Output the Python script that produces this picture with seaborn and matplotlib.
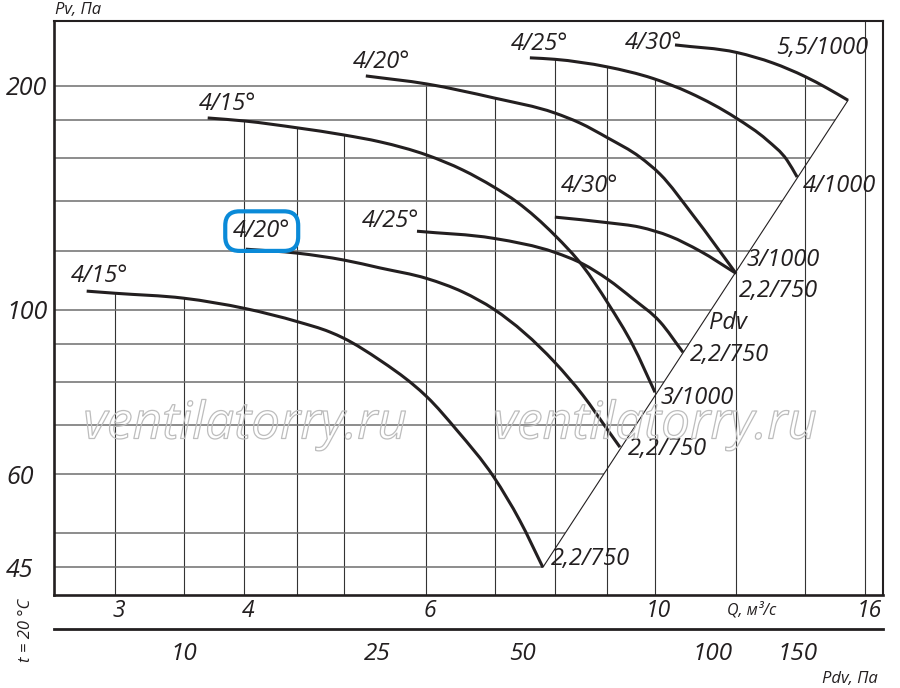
import numpy as np
import matplotlib
matplotlib.use('Agg')
import matplotlib.pyplot as plt
import matplotlib.patheffects as pe
import matplotlib.transforms as mtransforms
from matplotlib.path import Path
from matplotlib.patches import PathPatch
import seaborn as sns

# curve data (Q in m3/s, Pv in Pa)
lower_15_q = [2.815, 3.0, 3.496, 4.015, 4.51, 4.844, 4.998, 5.416, 5.832, 6.017, 6.433, 6.986, 7.403, 7.793]
lower_15_pv = [105.9, 105.2, 103.6, 100.3, 96.3, 93.3, 91.5, 85.5, 79.3, 76.3, 68.8, 59.5, 52.0, 45.0]

lower_20_q = [4.015, 4.51, 4.998, 5.416, 6.017, 6.519, 6.986, 8.004, 8.521, 9.011, 9.256]
lower_20_pv = [120.6, 119.1, 116.6, 113.8, 110.1, 105.6, 100.1, 84.9, 76.7, 68.8, 65.3]

lower_25_q = [5.884, 6.986, 8.004, 8.521, 9.011, 9.529, 10.121, 10.655]
lower_25_pv = [127.5, 124.7, 119.4, 115.2, 109.8, 103.4, 96.3, 87.6]

lower_30_q = [8.004, 9.011, 9.679, 10.35, 11.067, 11.993]
lower_30_pv = [133.2, 130.9, 129.1, 125.5, 119.9, 111.9]

upper_15_q = [3.688, 4.006, 4.51, 4.998, 5.416, 6.017, 6.519, 6.986, 7.354, 8.004, 8.521, 9.011, 9.529, 10.009]
upper_15_pv = [181.1, 179.4, 175.6, 171.8, 168.2, 161.4, 154.1, 146.2, 139.6, 125.9, 114.4, 102.0, 89.5, 77.4]

upper_20_q = [5.249, 6.017, 6.986, 8.004, 8.464, 9.011, 9.679, 10.121, 10.895, 11.993]
upper_20_pv = [206.3, 201.2, 192.7, 183.9, 178.3, 170.2, 160.4, 152.2, 134.0, 111.9]

upper_25_q = [7.57, 8.004, 8.991, 9.964, 10.822, 11.993, 12.853, 13.44, 13.747]
upper_25_pv = [218.2, 217.2, 212.2, 204.7, 195.7, 181.1, 169.1, 158.9, 150.8]

upper_30_q = [10.466, 12.02, 13.027, 13.99, 14.70, 15.40]
upper_30_pv = [227.1, 221.8, 214.7, 205.9, 198.6, 191.3]

angle_labels = ['4/15°', '4/20°', '4/25°', '4/30°', '4/15°', '4/20°', '4/25°', '4/30°']
motor_labels = ['2,2/750', '2,2/750', '2,2/750', '2,2/750', '3/1000', '3/1000', '4/1000', '5,5/1000']

# Pdv line through the curve ends
pdv_line_q = [7.793, 15.40]
pdv_line_pv = [45.0, 191.3]

grid_q = [3, 3.5, 4, 4.5, 5, 6, 7, 8, 9, 10, 12, 14, 16]
grid_pv = [45, 50, 60, 70, 80, 90, 100, 120, 140, 160, 180, 200]
q_ticks = [3, 4, 6, 10, 16]
pv_ticks = [45, 60, 100, 200]

# dynamic pressure scale under the Q axis
pdv_ticks = [10, 25, 50, 100, 150]
pdv_tick_q = [3.5, 5.39, 7.45, 11.39, 13.75]

curves = [
    (lower_15_q, lower_15_pv), (lower_20_q, lower_20_pv),
    (lower_25_q, lower_25_pv), (lower_30_q, lower_30_pv),
    (upper_15_q, upper_15_pv), (upper_20_q, upper_20_pv),
    (upper_25_q, upper_25_pv), (upper_30_q, upper_30_pv),
]
# label offsets in points (start label centred, end label left aligned)
angle_off = [(9.4, 10.8), (11.5, 13), (-18.7, 7.2), (25.2, 22.3),
             (14.4, 10.1), (11.5, 10.1), (7.2, 10.1), (-15.1, 1.4)]
motor_off = [(5.8, 5.8), (5.8, -1.4), (5.0, -2.2), (2.2, -13),
             (3.6, -4.3), (7.9, 9.4), (4.3, -6.5), (-51.8, 37.4)]


def smooth_path(q, pv):
    # cubic Hermite through the read points (log space), slopes from finite differences
    x, y = np.log10(q), np.log10(pv)
    m = np.gradient(y, x)
    verts, codes = [(x[0], y[0])], [Path.MOVETO]
    for i in range(len(x) - 1):
        h = (x[i + 1] - x[i]) / 3
        verts += [(x[i] + h, y[i] + m[i] * h), (x[i + 1] - h, y[i + 1] - m[i + 1] * h), (x[i + 1], y[i + 1])]
        codes += [Path.CURVE4] * 3
    return Path(10 ** np.array(verts), codes)


sns.set_theme(style='white')
plt.rcParams['font.family'] = ['Open Sans', 'DejaVu Sans']
plt.rcParams['font.style'] = 'italic'

ink = '#231f20'
fig = plt.figure(figsize=(9, 6.88), dpi=100)
ax = fig.add_axes([54/900, 1-595/688, 829/900, 574.3/688])
ax.set_xscale('log')
ax.set_yscale('log')
ax.set_xlim(2.617, 16.65)
ax.set_ylim(41.3, 244.8)

# grid lines clipped to the curve envelope and the Pdv line
lq = [np.log10(c[0]) for c in curves]
lp = [np.log10(c[1]) for c in curves]
for g in grid_q:
    tops = [10**np.interp(np.log10(g), a, b) for a, b in zip(lq, lp) if a[0] <= np.log10(g) <= a[-1]]
    top = max(tops) if tops else ax.get_ylim()[1]
    ax.vlines(g, ax.get_ylim()[0], top, color='#333333', lw=0.8, zorder=1)

slope = (np.log10(pdv_line_pv[1]) - np.log10(pdv_line_pv[0])) / (np.log10(pdv_line_q[1]) - np.log10(pdv_line_q[0]))
for g in grid_pv:
    if g <= pdv_line_pv[1]:
        right = 10**(np.log10(pdv_line_q[0]) + (np.log10(g) - np.log10(pdv_line_pv[0])) / slope)
    else:
        right = 10**np.interp(np.log10(g), lp[7][::-1], lq[7][::-1])
    ax.hlines(g, ax.get_xlim()[0], right, color='#6e6e6e', lw=1.1, zorder=1)

sns.lineplot(x=pdv_line_q, y=pdv_line_pv, ax=ax, color=ink, lw=0.8, zorder=2)
for (q, pv) in curves:
    ax.add_patch(PathPatch(smooth_path(q, pv), fill=False, ec=ink, lw=2.2, zorder=3))

for i, (q, pv) in enumerate(curves):
    kw = dict(textcoords='offset points', fontsize=17, color=ink, va='center')
    a = ax.annotate(angle_labels[i], xy=(q[0], pv[0]), xytext=angle_off[i], ha='center', **kw)
    if i == 1:
        a.set_bbox(dict(boxstyle='round,pad=0.33,rounding_size=0.6', fc='none', ec='#0a8ad8', lw=3))
    ax.annotate(motor_labels[i], xy=(q[-1], pv[-1]), xytext=motor_off[i], ha='left', **kw)
ax.text(11.78, 95.9, 'Pdv', fontsize=17, color=ink, ha='center', va='center')

ax.set_xticks(q_ticks, [str(t) for t in q_ticks])
ax.set_yticks(pv_ticks, [str(t) for t in pv_ticks])
ax.minorticks_off()
ax.tick_params(axis='x', length=0, pad=3, labelsize=16.5, labelcolor=ink)
ax.tick_params(axis='y', length=0, pad=34.5, labelsize=18, labelcolor=ink)
for lab in ax.get_yticklabels():
    lab.set_horizontalalignment('left')
shift = mtransforms.ScaledTranslation(4/100, 0, fig.dpi_scale_trans)
for lab in ax.get_xticklabels():
    lab.set_transform(lab.get_transform() + shift)
ax.set_xlabel('')
ax.set_ylabel('')
for s in ['left', 'bottom']:
    ax.spines[s].set_linewidth(1.9)
for s in ['top', 'right']:
    ax.spines[s].set_linewidth(1.5)
for s in ax.spines.values():
    s.set_color(ink)

# Pdv scale
axb = fig.add_axes([54/900, 1-629/688, 829/900, 0.001])
axb.set_xscale('log')
axb.set_xlim(ax.get_xlim())
axb.set_xticks(pdv_tick_q, [str(t) for t in pdv_ticks])
axb.minorticks_off()
axb.set_yticks([])
for s in ['left', 'right', 'top']:
    axb.spines[s].set_visible(False)
axb.spines['bottom'].set_linewidth(2)
axb.spines['bottom'].set_color(ink)
axb.tick_params(axis='x', direction='in', length=5, width=0.9, color=ink, pad=9, labelsize=17.5, labelcolor=ink)

fig.text(78/900, 1-10/688, 'Pv, Па', fontsize=12, color=ink, ha='center', va='center')
fig.text(752/900, 1-610/688, 'Q, м³/с', fontsize=11.5, color=ink, ha='center', va='center')
fig.text(878/900, 1-679/688, 'Pdv, Па', fontsize=12, color=ink, ha='right', va='center')
fig.text(26/900, 1-630/688, 't = 20 °C', fontsize=12, color=ink, ha='center', va='center', rotation=90)

for cx in [245, 655]:
    fig.text(cx/900, 1-425/688, 'ventilatorry.ru', fontsize=37, color='none', ha='center', va='center',
             path_effects=[pe.Stroke(linewidth=0.9, foreground='#bdbdbd')], zorder=5)

fig.savefig('out.png', dpi=100)
